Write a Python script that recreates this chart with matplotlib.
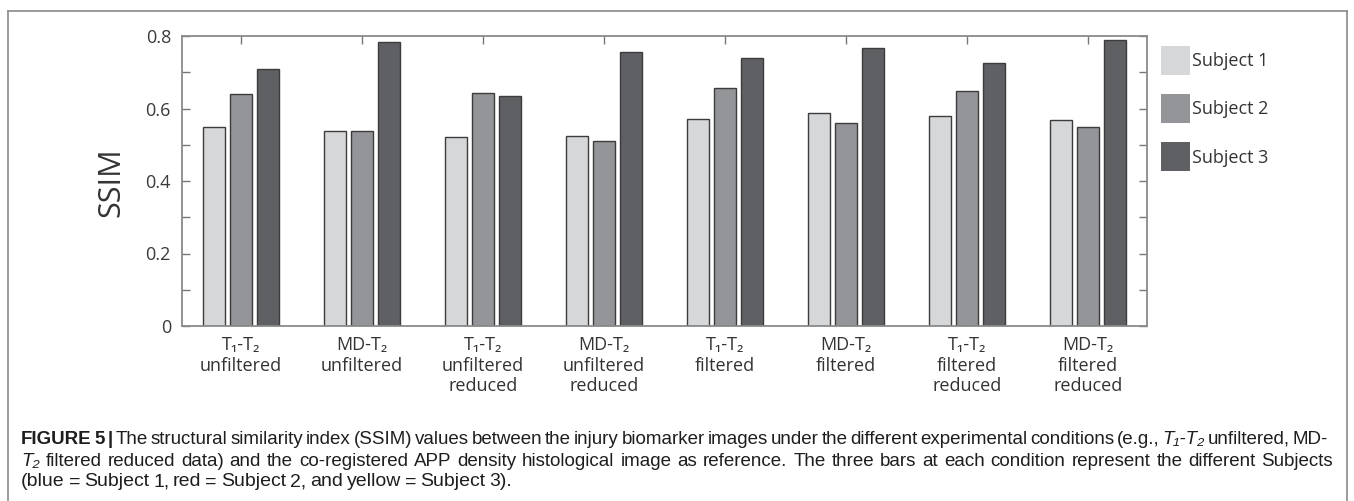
import numpy as np
import matplotlib
matplotlib.use("Agg")
import matplotlib.pyplot as plt
from matplotlib.patches import Patch
from matplotlib.lines import Line2D

# === data ===
conditions = ["T₁-T₂\nunfiltered", "MD-T₂\nunfiltered",
              "T₁-T₂\nunfiltered\nreduced", "MD-T₂\nunfiltered\nreduced",
              "T₁-T₂\nfiltered", "MD-T₂\nfiltered",
              "T₁-T₂\nfiltered\nreduced", "MD-T₂\nfiltered\nreduced"]
subjects = ["Subject 1", "Subject 2", "Subject 3"]
subject1 = [0.550, 0.539, 0.521, 0.523, 0.570, 0.588, 0.579, 0.568]
subject2 = [0.641, 0.539, 0.642, 0.511, 0.656, 0.561, 0.648, 0.550]
subject3 = [0.708, 0.783, 0.635, 0.755, 0.740, 0.766, 0.726, 0.790]
yticks = [0, 0.2, 0.4, 0.6, 0.8]
yticklabels = ["0", "0.2", "0.4", "0.6", "0.8"]

colors = ["#d6d7d9", "#939598", "#5f6064"]
FONT = ["Open Sans", "DejaVu Sans"]
CAP_FONT = ["Liberation Sans", "DejaVu Sans"]
W, H = 1354, 501

fig = plt.figure(figsize=(W / 100, H / 100), dpi=100)
ax = fig.add_axes([182 / W, 1 - 326 / H, 965 / W, 290 / H])

x = np.arange(len(conditions))
offsets = [-0.222, 0.0, 0.222]
for vals, off, col in zip([subject1, subject2, subject3], offsets, colors):
    ax.bar(x + off, vals, width=0.178, color=col, edgecolor="#3c3c3c", linewidth=1.0, zorder=2)

ax.set_xlim(-0.488, len(conditions) - 1 + 0.488)
ax.set_ylim(0, 0.8)
ax.set_xticks(x)
ax.set_xticklabels(conditions, fontfamily=FONT, fontsize=13, color="#333333", linespacing=1.2)
ax.set_yticks(yticks)
ax.set_yticklabels(yticklabels, fontfamily=FONT, fontsize=13, color="#3a3a3a")
ax.set_yticks(np.arange(0.1, 0.8, 0.2), minor=True)
ax.tick_params(which="both", direction="in", top=True, right=True, length=6, width=1, color="#777777")
ax.tick_params(axis="x", pad=7)
ax.tick_params(axis="y", pad=8)
for sp in ax.spines.values():
    sp.set_color("#8a8a8a")
    sp.set_linewidth(1.3)

fig.text(111 / W, 1 - 182 / H, "SSIM", rotation=90, ha="center", va="center",
         fontfamily=FONT, fontsize=22, color="#333333")

# legend
handles = [Patch(facecolor=c, edgecolor="none") for c in colors]
fig.legend(handles, subjects, loc="upper left", bbox_to_anchor=(1161 / W, 1 - 46 / H),
           frameon=False, borderpad=0, borderaxespad=0, handlelength=1.6, handleheight=2.1,
           handletextpad=0.12, labelspacing=1.06, prop={"family": FONT, "size": 13})
for t in fig.legends[0].get_texts():
    t.set_color("#333333")

# figure frame
frame_kw = dict(color="#8a8a8a", linewidth=1.2, transform=fig.transFigure)
fig.add_artist(Line2D([7.5 / W, 7.5 / W], [0, 1 - 11 / H], **frame_kw))
fig.add_artist(Line2D([7.5 / W, 1346.5 / W], [1 - 11 / H, 1 - 11 / H], **frame_kw))
fig.add_artist(Line2D([1346.5 / W, 1346.5 / W], [0, 1 - 11 / H], **frame_kw))

# caption, justified lines
renderer = fig.canvas.get_renderer()
B = {"weight": "bold"}
I = {"style": "italic"}
N = {}


def put_line(tokens, y, x0, x1=None, size=13.5, min_gap=2.5):
    while True:
        arts = [fig.text(0, 1 - y / H, txt, va="center", ha="left", fontsize=size,
                         fontfamily=CAP_FONT, color="#1e1e1e", **kw) for txt, kw in tokens]
        widths = [a.get_window_extent(renderer).width for a in arts]
        if x1 is None:
            gap = size * 0.28
            break
        gap = (x1 - x0 - sum(widths)) / (len(arts) - 1)
        if gap >= min_gap:
            break
        for a in arts:
            a.remove()
        size -= 0.25
    pos = x0
    for a, w in zip(arts, widths):
        a.set_x(pos / W)
        pos += w + gap


def words(s, kw=N):
    return [(w, kw) for w in s.split()]


line1 = ([("FIGURE", B), ("5", B), ("|", B)]
         + words("The structural similarity index (SSIM) values between the injury biomarker images "
                 "under the different experimental conditions (e.g.,")
         + [("T₁-T₂", I)] + words("unfiltered, MD-"))
line2 = ([("T₂", I)]
         + words("filtered reduced data) and the co-registered APP density histological image as "
                 "reference. The three bars at each condition represent the different Subjects"))
line3 = words("(blue = Subject 1, red = Subject 2, and yellow = Subject 3).")

put_line(line1, 439, 21, 1328)
put_line(line2, 461, 21, 1333)
put_line(line3, 482, 21, size=14)

fig.savefig("out.png", dpi=100)
